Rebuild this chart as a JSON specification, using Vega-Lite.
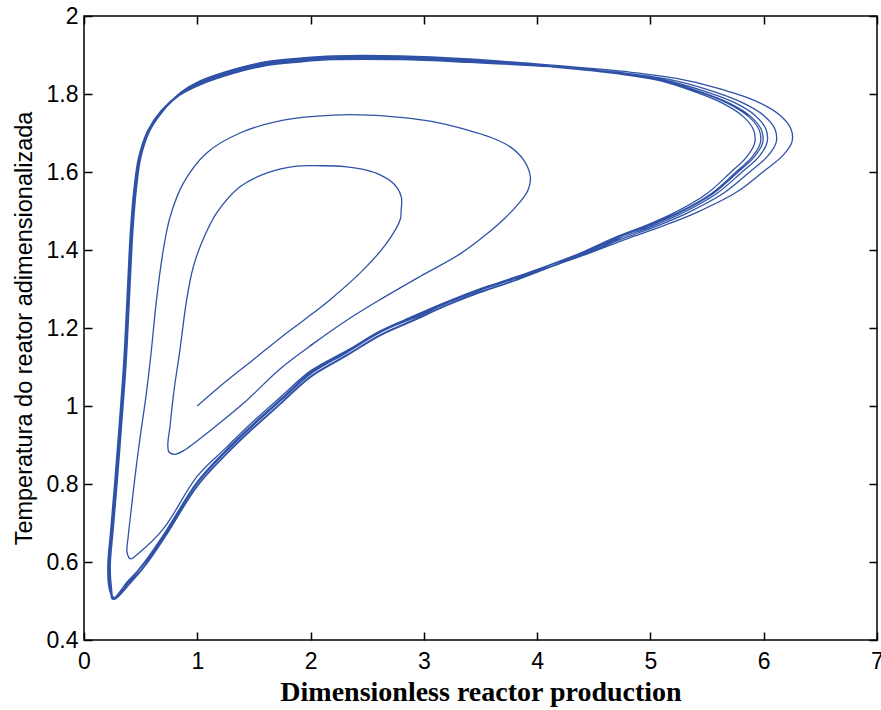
{
  "$schema": "https://vega.github.io/schema/vega-lite/v6.json",
  "autosize": "none",
  "width": 793,
  "height": 624,
  "padding": {"left": 84, "top": 16, "right": 4, "bottom": 70},
  "background": "white",
  "config": {
    "view": {"stroke": "black", "strokeWidth": 1.5},
    "axis": {
      "grid": false,
      "domain": false,
      "tickColor": "black",
      "tickWidth": 1.5,
      "tickSize": 8,
      "offset": -8,
      "labelColor": "black",
      "labelFont": "Liberation Sans",
      "labelFontSize": 23,
      "labelFlush": false,
      "titleColor": "black"
    }
  },
  "data": {"values": [
    {"t":1,"x":1.0,"y":1.0},{"t":2,"x":1.27,"y":1.067},{"t":3,"x":1.5,"y":1.12},{"t":4,"x":1.73,"y":1.174},{"t":5,"x":1.94,"y":1.22},
    {"t":6,"x":2.17,"y":1.272},{"t":7,"x":2.465,"y":1.349},{"t":8,"x":2.67,"y":1.417},{"t":9,"x":2.79,"y":1.477},{"t":10,"x":2.8,"y":1.503},
    {"t":11,"x":2.8,"y":1.537},{"t":12,"x":2.73,"y":1.571},{"t":13,"x":2.58,"y":1.597},{"t":14,"x":2.465,"y":1.607},{"t":15,"x":2.3,"y":1.614},
    {"t":16,"x":2.1,"y":1.616},{"t":17,"x":1.877,"y":1.615},{"t":18,"x":1.61,"y":1.597},{"t":19,"x":1.377,"y":1.562},{"t":20,"x":1.171,"y":1.495},
    {"t":21,"x":1.05,"y":1.426},{"t":22,"x":0.965,"y":1.357},{"t":23,"x":0.906,"y":1.272},{"t":24,"x":0.847,"y":1.144},{"t":25,"x":0.79,"y":1.03},
    {"t":26,"x":0.76,"y":0.95},{"t":27,"x":0.74,"y":0.9},{"t":28,"x":0.75,"y":0.882},{"t":29,"x":0.8,"y":0.876},{"t":30,"x":0.876,"y":0.885},
    {"t":31,"x":1.127,"y":0.94},{"t":32,"x":1.42,"y":1.01},{"t":33,"x":1.73,"y":1.095},{"t":34,"x":2.024,"y":1.16},{"t":35,"x":2.32,"y":1.22},
    {"t":36,"x":2.61,"y":1.272},{"t":37,"x":2.966,"y":1.332},{"t":38,"x":3.32,"y":1.39},{"t":39,"x":3.53,"y":1.435},{"t":40,"x":3.71,"y":1.48},
    {"t":41,"x":3.84,"y":1.52},{"t":42,"x":3.92,"y":1.554},{"t":43,"x":3.94,"y":1.588},{"t":44,"x":3.88,"y":1.631},{"t":45,"x":3.76,"y":1.665},
    {"t":46,"x":3.58,"y":1.69},{"t":47,"x":3.38,"y":1.708},{"t":48,"x":3.08,"y":1.729},{"t":49,"x":2.79,"y":1.74},{"t":50,"x":2.52,"y":1.746},
    {"t":51,"x":2.2,"y":1.746},{"t":52,"x":1.76,"y":1.733},{"t":53,"x":1.377,"y":1.7},{"t":54,"x":1.083,"y":1.649},{"t":55,"x":0.876,"y":1.571},
    {"t":56,"x":0.76,"y":1.485},{"t":57,"x":0.7,"y":1.4},{"t":58,"x":0.64,"y":1.272},{"t":59,"x":0.59,"y":1.13},{"t":60,"x":0.545,"y":1.02},
    {"t":61,"x":0.5,"y":0.93},{"t":62,"x":0.455,"y":0.83},{"t":63,"x":0.415,"y":0.73},{"t":64,"x":0.39,"y":0.665},{"t":65,"x":0.38,"y":0.625},
    {"t":66,"x":0.41,"y":0.608},{"t":67,"x":0.48,"y":0.622},{"t":68,"x":0.7,"y":0.685},{"t":69,"x":1.0,"y":0.82},{"t":70,"x":1.25,"y":0.892},
    {"t":71,"x":1.5,"y":0.962},{"t":72,"x":1.75,"y":1.027},{"t":73,"x":2.0,"y":1.09},{"t":74,"x":2.32,"y":1.142},{"t":75,"x":2.61,"y":1.19},
    {"t":76,"x":2.91,"y":1.225},{"t":77,"x":3.2,"y":1.263},{"t":78,"x":3.5,"y":1.297},{"t":79,"x":3.79,"y":1.325},{"t":80,"x":4.08,"y":1.357},
    {"t":81,"x":4.38,"y":1.392},{"t":82,"x":4.67,"y":1.43},{"t":83,"x":4.95,"y":1.462},{"t":84,"x":5.2,"y":1.494},{"t":85,"x":5.5,"y":1.545},
    {"t":86,"x":5.7,"y":1.597},{"t":87,"x":5.85,"y":1.639},{"t":88,"x":5.92,"y":1.674},{"t":89,"x":5.91,"y":1.708},{"t":90,"x":5.82,"y":1.742},
    {"t":91,"x":5.64,"y":1.776},{"t":92,"x":5.35,"y":1.81},{"t":93,"x":5.05,"y":1.836},{"t":94,"x":4.7,"y":1.852},{"t":95,"x":4.11,"y":1.87},
    {"t":96,"x":3.4,"y":1.885},{"t":97,"x":2.8,"y":1.892},{"t":98,"x":2.2,"y":1.892},{"t":99,"x":1.9,"y":1.886},{"t":100,"x":1.61,"y":1.877},
    {"t":101,"x":1.32,"y":1.857},{"t":102,"x":1.02,"y":1.827},{"t":103,"x":0.85,"y":1.8},{"t":104,"x":0.69,"y":1.757},{"t":105,"x":0.57,"y":1.705},
    {"t":106,"x":0.49,"y":1.635},{"t":107,"x":0.45,"y":1.554},{"t":108,"x":0.42,"y":1.45},{"t":109,"x":0.39,"y":1.28},{"t":110,"x":0.36,"y":1.11},
    {"t":111,"x":0.32,"y":0.95},{"t":112,"x":0.28,"y":0.8},{"t":113,"x":0.245,"y":0.68},{"t":114,"x":0.22,"y":0.59},{"t":115,"x":0.23,"y":0.535},
    {"t":116,"x":0.27,"y":0.507},{"t":117,"x":0.41,"y":0.554},{"t":118,"x":0.55,"y":0.604},{"t":119,"x":0.72,"y":0.676},{"t":120,"x":1.0,"y":0.804},
    {"t":121,"x":1.25,"y":0.884},{"t":122,"x":1.5,"y":0.954},{"t":123,"x":1.75,"y":1.019},{"t":124,"x":2.0,"y":1.084},{"t":125,"x":2.32,"y":1.139},
    {"t":126,"x":2.61,"y":1.19},{"t":127,"x":2.91,"y":1.229},{"t":128,"x":3.2,"y":1.267},{"t":129,"x":3.5,"y":1.301},{"t":130,"x":3.79,"y":1.329},
    {"t":131,"x":4.082,"y":1.359},{"t":132,"x":4.39,"y":1.393},{"t":133,"x":4.687,"y":1.43},{"t":134,"x":4.975,"y":1.462},{"t":135,"x":5.231,"y":1.494},
    {"t":136,"x":5.539,"y":1.545},{"t":137,"x":5.744,"y":1.597},{"t":138,"x":5.898,"y":1.639},{"t":139,"x":5.97,"y":1.674},{"t":140,"x":5.96,"y":1.708},
    {"t":141,"x":5.867,"y":1.742},{"t":142,"x":5.683,"y":1.776},{"t":143,"x":5.385,"y":1.81},{"t":144,"x":5.077,"y":1.836},{"t":145,"x":4.718,"y":1.852},
    {"t":146,"x":4.113,"y":1.871},{"t":147,"x":3.4,"y":1.889},{"t":148,"x":2.8,"y":1.896},{"t":149,"x":2.2,"y":1.896},{"t":150,"x":1.9,"y":1.89},
    {"t":151,"x":1.61,"y":1.881},{"t":152,"x":1.32,"y":1.861},{"t":153,"x":1.02,"y":1.831},{"t":154,"x":0.855,"y":1.803},{"t":155,"x":0.7,"y":1.757},
    {"t":156,"x":0.58,"y":1.705},{"t":157,"x":0.5,"y":1.635},{"t":158,"x":0.46,"y":1.554},{"t":159,"x":0.43,"y":1.45},{"t":160,"x":0.4,"y":1.28},
    {"t":161,"x":0.37,"y":1.11},{"t":162,"x":0.33,"y":0.95},{"t":163,"x":0.29,"y":0.8},{"t":164,"x":0.255,"y":0.68},{"t":165,"x":0.23,"y":0.59},
    {"t":166,"x":0.24,"y":0.535},
    {"t":167,"x":0.254,"y":0.505},{"t":168,"x":0.394,"y":0.546},{"t":169,"x":0.55,"y":0.596},{"t":170,"x":0.72,"y":0.668},{"t":171,"x":1.0,"y":0.796},
    {"t":172,"x":1.25,"y":0.876},{"t":173,"x":1.5,"y":0.946},{"t":174,"x":1.75,"y":1.011},{"t":175,"x":2.0,"y":1.076},{"t":176,"x":2.32,"y":1.131},
    {"t":177,"x":2.61,"y":1.182},{"t":178,"x":2.91,"y":1.221},{"t":179,"x":3.2,"y":1.259},{"t":180,"x":3.5,"y":1.293},{"t":181,"x":3.79,"y":1.321},
    {"t":182,"x":4.085,"y":1.354},{"t":183,"x":4.402,"y":1.39},{"t":184,"x":4.708,"y":1.428},{"t":185,"x":5.004,"y":1.46},{"t":186,"x":5.269,"y":1.493},
    {"t":187,"x":5.586,"y":1.545},{"t":188,"x":5.797,"y":1.597},{"t":189,"x":5.956,"y":1.639},{"t":190,"x":6.03,"y":1.676},{"t":191,"x":6.019,"y":1.71},
    {"t":192,"x":5.924,"y":1.745},{"t":193,"x":5.734,"y":1.779},{"t":194,"x":5.427,"y":1.812},{"t":195,"x":5.11,"y":1.837},{"t":196,"x":4.74,"y":1.853},
    {"t":197,"x":4.116,"y":1.87},{"t":198,"x":3.4,"y":1.881},{"t":199,"x":2.8,"y":1.888},{"t":200,"x":2.2,"y":1.888},{"t":201,"x":1.9,"y":1.882},
    {"t":202,"x":1.61,"y":1.873},{"t":203,"x":1.32,"y":1.853},{"t":204,"x":1.02,"y":1.823},{"t":205,"x":0.845,"y":1.797},{"t":206,"x":0.684,"y":1.757},
    {"t":207,"x":0.564,"y":1.705},{"t":208,"x":0.484,"y":1.635},{"t":209,"x":0.444,"y":1.554},{"t":210,"x":0.414,"y":1.45},{"t":211,"x":0.384,"y":1.28},
    {"t":212,"x":0.354,"y":1.11},{"t":213,"x":0.314,"y":0.95},{"t":214,"x":0.274,"y":0.8},{"t":215,"x":0.239,"y":0.68},{"t":216,"x":0.214,"y":0.59},
    {"t":217,"x":0.224,"y":0.535},
    {"t":218,"x":0.272,"y":0.508},{"t":219,"x":0.412,"y":0.556},{"t":220,"x":0.55,"y":0.606},{"t":221,"x":0.72,"y":0.678},{"t":222,"x":1.0,"y":0.806},
    {"t":223,"x":1.25,"y":0.886},{"t":224,"x":1.5,"y":0.956},{"t":225,"x":1.75,"y":1.021},{"t":226,"x":2.0,"y":1.086},{"t":227,"x":2.32,"y":1.141},
    {"t":228,"x":2.61,"y":1.192},{"t":229,"x":2.91,"y":1.231},{"t":230,"x":3.2,"y":1.267},{"t":231,"x":3.5,"y":1.299},{"t":232,"x":3.79,"y":1.325},
    {"t":233,"x":4.094,"y":1.355},{"t":234,"x":4.445,"y":1.39},{"t":235,"x":4.785,"y":1.428},{"t":236,"x":5.113,"y":1.462},{"t":237,"x":5.406,"y":1.496},
    {"t":238,"x":5.758,"y":1.548},{"t":239,"x":5.992,"y":1.6},{"t":240,"x":6.168,"y":1.642},{"t":241,"x":6.25,"y":1.678},{"t":242,"x":6.238,"y":1.712},
    {"t":243,"x":6.133,"y":1.748},{"t":244,"x":5.922,"y":1.783},{"t":245,"x":5.582,"y":1.816},{"t":246,"x":5.23,"y":1.84},{"t":247,"x":4.82,"y":1.856},
    {"t":248,"x":4.129,"y":1.874},{"t":249,"x":3.4,"y":1.89},{"t":250,"x":2.8,"y":1.898},{"t":251,"x":2.2,"y":1.898},{"t":252,"x":1.9,"y":1.892},
    {"t":253,"x":1.61,"y":1.883},{"t":254,"x":1.32,"y":1.863},{"t":255,"x":1.02,"y":1.833},{"t":256,"x":0.857,"y":1.805},{"t":257,"x":0.702,"y":1.76},
    {"t":258,"x":0.582,"y":1.708},{"t":259,"x":0.502,"y":1.637},{"t":260,"x":0.462,"y":1.554},{"t":261,"x":0.432,"y":1.45},{"t":262,"x":0.402,"y":1.28},
    {"t":263,"x":0.372,"y":1.11},{"t":264,"x":0.332,"y":0.95},{"t":265,"x":0.292,"y":0.8},{"t":266,"x":0.257,"y":0.68},{"t":267,"x":0.232,"y":0.59},
    {"t":268,"x":0.242,"y":0.535},
    {"t":269,"x":0.264,"y":0.504},{"t":270,"x":0.404,"y":0.544},{"t":271,"x":0.55,"y":0.594},{"t":272,"x":0.72,"y":0.666},{"t":273,"x":1.0,"y":0.794},
    {"t":274,"x":1.25,"y":0.874},{"t":275,"x":1.5,"y":0.944},{"t":276,"x":1.75,"y":1.009},{"t":277,"x":2.0,"y":1.074},{"t":278,"x":2.32,"y":1.129},
    {"t":279,"x":2.61,"y":1.18},{"t":280,"x":2.91,"y":1.219},{"t":281,"x":3.2,"y":1.257},{"t":282,"x":3.5,"y":1.291},{"t":283,"x":3.79,"y":1.32},
    {"t":284,"x":4.088,"y":1.353},{"t":285,"x":4.418,"y":1.389},{"t":286,"x":4.736,"y":1.427},{"t":287,"x":5.044,"y":1.46},{"t":288,"x":5.319,"y":1.494},
    {"t":289,"x":5.648,"y":1.546},{"t":290,"x":5.868,"y":1.598},{"t":291,"x":6.033,"y":1.64},{"t":292,"x":6.11,"y":1.676},{"t":293,"x":6.099,"y":1.71},
    {"t":294,"x":6.0,"y":1.745},{"t":295,"x":5.802,"y":1.779},{"t":296,"x":5.484,"y":1.813},{"t":297,"x":5.154,"y":1.838},{"t":298,"x":4.769,"y":1.854},
    {"t":299,"x":4.121,"y":1.871},{"t":300,"x":3.4,"y":1.883},{"t":301,"x":2.8,"y":1.89},{"t":302,"x":2.2,"y":1.89},{"t":303,"x":1.9,"y":1.884},
    {"t":304,"x":1.61,"y":1.875},{"t":305,"x":1.32,"y":1.855},{"t":306,"x":1.02,"y":1.825},{"t":307,"x":0.852,"y":1.799},{"t":308,"x":0.694,"y":1.757},
    {"t":309,"x":0.574,"y":1.705},{"t":310,"x":0.494,"y":1.635},{"t":311,"x":0.454,"y":1.554},{"t":312,"x":0.424,"y":1.45},{"t":313,"x":0.394,"y":1.28},
    {"t":314,"x":0.364,"y":1.11},{"t":315,"x":0.324,"y":0.95},{"t":316,"x":0.284,"y":0.8},{"t":317,"x":0.249,"y":0.68},{"t":318,"x":0.224,"y":0.59},
    {"t":319,"x":0.234,"y":0.535},
    {"t":320,"x":0.25,"y":0.505},{"t":321,"x":0.39,"y":0.552},{"t":322,"x":0.55,"y":0.602},{"t":323,"x":0.72,"y":0.674},{"t":324,"x":1.0,"y":0.802},
    {"t":325,"x":1.25,"y":0.882},{"t":326,"x":1.5,"y":0.952},{"t":327,"x":1.75,"y":1.017},{"t":328,"x":2.0,"y":1.082},{"t":329,"x":2.32,"y":1.137},
    {"t":330,"x":2.61,"y":1.188},{"t":331,"x":2.91,"y":1.227},{"t":332,"x":3.2,"y":1.265},{"t":333,"x":3.5,"y":1.299},{"t":334,"x":3.79,"y":1.327},
    {"t":335,"x":4.083,"y":1.358},{"t":336,"x":4.394,"y":1.392},{"t":337,"x":4.694,"y":1.43},{"t":338,"x":4.985,"y":1.462},{"t":339,"x":5.244,"y":1.494},
    {"t":340,"x":5.555,"y":1.545},{"t":341,"x":5.762,"y":1.597},{"t":342,"x":5.917,"y":1.639},{"t":343,"x":5.99,"y":1.674},{"t":344,"x":5.98,"y":1.708},
    {"t":345,"x":5.886,"y":1.742},{"t":346,"x":5.7,"y":1.776},{"t":347,"x":5.399,"y":1.81},{"t":348,"x":5.088,"y":1.836},{"t":349,"x":4.726,"y":1.852},
    {"t":350,"x":4.114,"y":1.87},{"t":351,"x":3.4,"y":1.887},{"t":352,"x":2.8,"y":1.894},{"t":353,"x":2.2,"y":1.894},{"t":354,"x":1.9,"y":1.888},
    {"t":355,"x":1.61,"y":1.879},{"t":356,"x":1.32,"y":1.859},{"t":357,"x":1.02,"y":1.829},{"t":358,"x":0.84,"y":1.8},{"t":359,"x":0.68,"y":1.757},
    {"t":360,"x":0.56,"y":1.705},{"t":361,"x":0.48,"y":1.635},{"t":362,"x":0.44,"y":1.554},{"t":363,"x":0.41,"y":1.45},{"t":364,"x":0.38,"y":1.28},
    {"t":365,"x":0.35,"y":1.11},{"t":366,"x":0.31,"y":0.95},{"t":367,"x":0.27,"y":0.8},{"t":368,"x":0.235,"y":0.68},{"t":369,"x":0.21,"y":0.59},
    {"t":370,"x":0.22,"y":0.535},{"t":371,"x":0.255,"y":0.503}
  ]},
  "layer": [
    {
      "mark": {"type": "line", "interpolate": "catmull-rom", "color": "#2f52a7", "strokeWidth": 1.3},
      "encoding": {
        "order": {"field": "t", "type": "quantitative"},
        "x": {"field": "x", "type": "quantitative",
              "scale": {"domain": [0, 7], "nice": false, "zero": false},
              "axis": {"orient": "bottom", "values": [0,1,2,3,4,5,6,7], "labelPadding": 10,
                       "title": "Dimensionless reactor production", "titleFont": "Liberation Serif", "titleFontWeight": "bold",
                       "titleFontSize": 28, "titlePadding": 5}},
        "y": {"field": "y", "type": "quantitative",
              "scale": {"domain": [0.4, 2], "nice": false, "zero": false},
              "axis": {"orient": "left", "values": [0.4,0.6,0.8,1,1.2,1.4,1.6,1.8,2], "format": "~g", "labelPadding": 6,
                       "title": "Temperatura do reator adimensionalizada", "titleFont": "Liberation Sans", "titleFontWeight": "normal",
                       "titleFontSize": 23.5, "titlePadding": 10}}
      }
    },
    {
      "mark": {"type": "line", "strokeOpacity": 0},
      "encoding": {
        "order": {"field": "t", "type": "quantitative"},
        "x": {"field": "x", "type": "quantitative",
              "axis": {"orient": "top", "values": [0,1,2,3,4,5,6,7], "labels": false, "title": null}},
        "y": {"field": "y", "type": "quantitative",
              "axis": {"orient": "right", "values": [0.4,0.6,0.8,1,1.2,1.4,1.6,1.8,2], "labels": false, "title": null}}
      }
    }
  ],
  "resolve": {"axis": {"x": "independent", "y": "independent"}}
}
